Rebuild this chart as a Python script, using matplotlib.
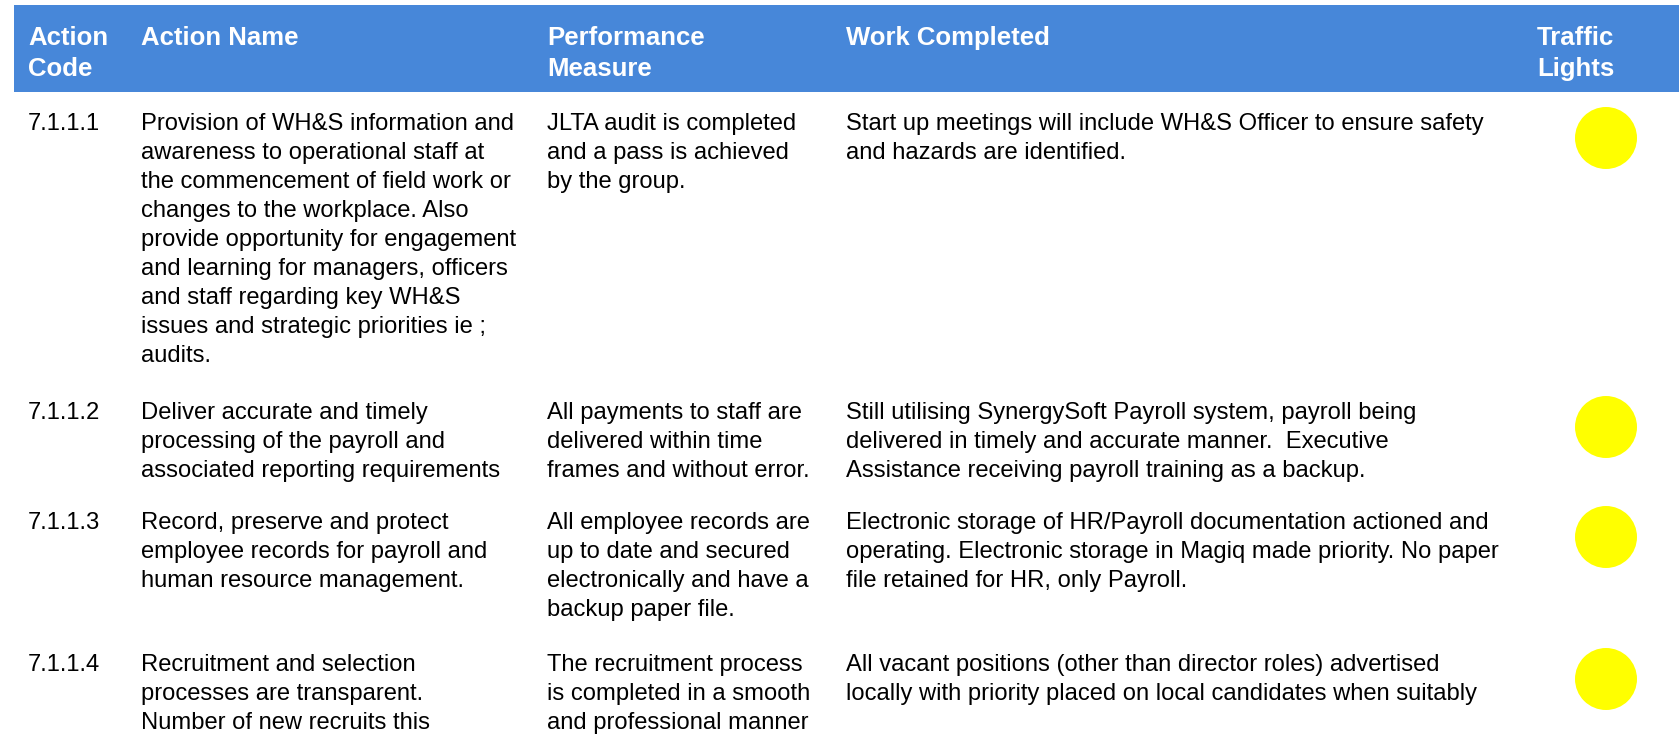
import matplotlib
matplotlib.use("Agg")
import matplotlib.pyplot as plt
from matplotlib.patches import Circle, Rectangle

# ---- data ----
headers = ["Action\nCode", "Action Name", "Performance\nMeasure", "Work Completed", "Traffic\nLights"]
codes = ["7.1.1.1", "7.1.1.2", "7.1.1.3", "7.1.1.4"]
action_names = [
    "Provision of WH&S information and\nawareness to operational staff at\nthe commencement of field work or\nchanges to the workplace. Also\nprovide opportunity for engagement\nand learning for managers, officers\nand staff regarding key WH&S\nissues and strategic priorities ie ;\naudits.",
    "Deliver accurate and timely\nprocessing of the payroll and\nassociated reporting requirements",
    "Record, preserve and protect\nemployee records for payroll and\nhuman resource management.",
    "Recruitment and selection\nprocesses are transparent.\nNumber of new recruits this",
]
measures = [
    "JLTA audit is completed\nand a pass is achieved\nby the group.",
    "All payments to staff are\ndelivered within time\nframes and without error.",
    "All employee records are\nup to date and secured\nelectronically and have a\nbackup paper file.",
    "The recruitment process\nis completed in a smooth\nand professional manner",
]
work_completed = [
    "Start up meetings will include WH&S Officer to ensure safety\nand hazards are identified.",
    "Still utilising SynergySoft Payroll system, payroll being\ndelivered in timely and accurate manner.  Executive\nAssistance receiving payroll training as a backup.",
    "Electronic storage of HR/Payroll documentation actioned and\noperating. Electronic storage in Magiq made priority. No paper\nfile retained for HR, only Payroll.",
    "All vacant positions (other than director roles) advertised\nlocally with priority placed on local candidates when suitably",
]
traffic_lights = ["#FFFF00", "#FFFF00", "#FFFF00", "#FFFF00"]

# ---- layout ----
W, H = 1679, 734
col_x = [28, 141, 547, 846, 1537]
light_x = 1606
light_r = 31
row_baselines = [130, 419, 529, 671]
line_step = 29
header_baselines = [45, 76]
header_color = "#4787D9"
font = "Liberation Sans"

fig = plt.figure(figsize=(W / 100, H / 100), dpi=100)
ax = fig.add_axes([0, 0, 1, 1])
ax.set_xlim(0, W)
ax.set_ylim(H, 0)
ax.axis("off")

ax.add_patch(Rectangle((14, 5), W - 14, 87, facecolor=header_color, edgecolor="none"))
for x, h in zip(col_x, headers):
    for i, line in enumerate(h.split("\n")):
        ax.text(x, header_baselines[i], line, color="white", fontsize=18.5,
                fontweight="bold", family=font, va="baseline", ha="left")

for r in range(len(codes)):
    b = row_baselines[r]
    cells = [codes[r], action_names[r], measures[r], work_completed[r]]
    for x, cell in zip(col_x[:4], cells):
        for i, line in enumerate(cell.split("\n")):
            ax.text(x, b + i * line_step, line, color="black", fontsize=17.1,
                    family=font, va="baseline", ha="left")
    ax.add_patch(Circle((light_x, b + 8), light_r, facecolor=traffic_lights[r], edgecolor="none"))

fig.savefig("out.png", dpi=100)
